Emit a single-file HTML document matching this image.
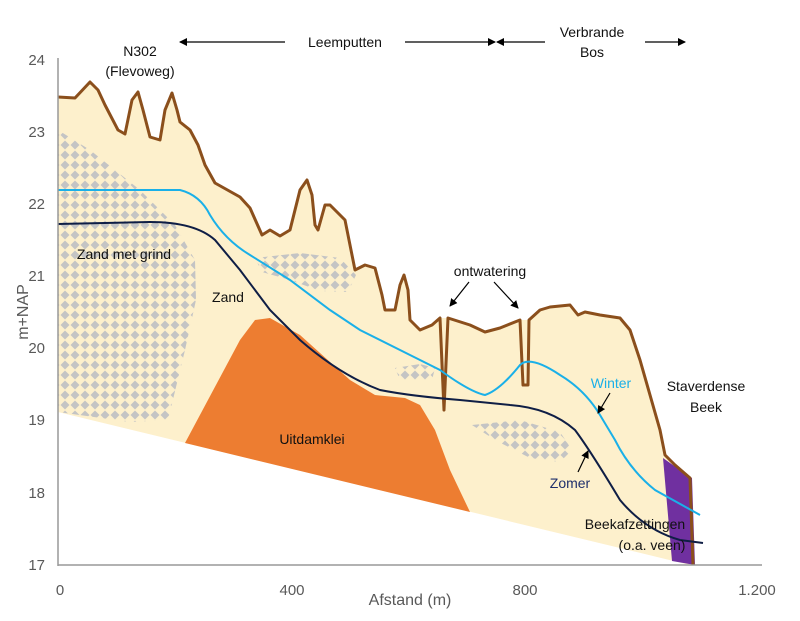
<!DOCTYPE html>
<html><head><meta charset="utf-8"><style>
body{margin:0;background:#fff}
svg{display:block;font-family:"Liberation Sans",sans-serif}
</style></head><body>
<svg width="800" height="621" viewBox="0 0 800 621" xmlns="http://www.w3.org/2000/svg">
<defs>
<pattern id="chk" width="10" height="10" patternUnits="userSpaceOnUse">
<rect width="10" height="10" fill="#fdf0cc"/>
<path d="M5 0.5 L9.5 5 L5 9.5 L0.5 5Z" fill="#c4c4c4"/>
</pattern>
<marker id="ah" markerWidth="8" markerHeight="8" refX="7" refY="4" orient="auto" markerUnits="userSpaceOnUse">
<path d="M0 0 L8 4 L0 8Z" fill="#000"/>
</marker>
</defs>
<path d="M58 97 L75 98 L90 82 L98 90 L105 105 L118 130 L125 134 L132 100 L138 92 L143 110 L150 137 L160 140 L165 110 L172 93 L177 110 L180 122 L190 130 L198 145 L205 165 L215 183 L240 197 L250 208 L262 235 L270 230 L280 236 L290 230 L300 190 L307 180 L312 195 L315 225 L318 230 L325 205 L330 205 L345 220 L355 270 L365 265 L375 268 L382 295 L385 310 L395 310 L400 285 L404 275 L408 290 L410 320 L420 330 L432 325 L440 318 L445 318 L448 318 L470 325 L485 332 L500 328 L520 320 L529 320 L540 310 L550 307 L570 305 L578 315 L585 312 L600 315 L620 318 L630 330 L640 360 L650 395 L660 430 L665 455 L675 465 L690 478 L693 565 L690 565 L58 412Z" fill="#fdf0cc"/>
<path d="M58 130 L90 150 L140 190 L175 225 L195 260 L196 300 L185 350 L168 420 L130 422 L58 412Z" fill="url(#chk)"/>
<path d="M255 258 L300 253 L340 258 L356 275 L348 292 L320 291 L290 280 L262 272Z" fill="url(#chk)"/>
<path d="M395 368 L420 364 L435 368 L432 380 L400 380Z" fill="url(#chk)"/>
<path d="M472 425 L520 420 L560 432 L572 450 L560 462 L530 458 L495 440Z" fill="url(#chk)"/>
<path d="M185 443 L240 340 L255 320 L270 318 L300 335 L350 380 L375 395 L405 398 L420 405 L435 430 L450 470 L470 512Z" fill="#ed7d31"/>
<path d="M663 458 L680 470 L692 478 L695 565 L672 561Z" fill="#7030a0"/>
<path d="M58 97 L75 98 L90 82 L98 90 L105 105 L118 130 L125 134 L132 100 L138 92 L143 110 L150 137 L160 140 L165 110 L172 93 L177 110 L180 122 L190 130 L198 145 L205 165 L215 183 L240 197 L250 208 L262 235 L270 230 L280 236 L290 230 L300 190 L307 180 L312 195 L315 225 L318 230 L325 205 L330 205 L345 220 L355 270 L365 265 L375 268 L382 295 L385 310 L395 310 L400 285 L404 275 L408 290 L410 320 L420 330 L432 325 L440 318 L444 410 L448 318 L470 325 L485 332 L500 328 L520 320 L523 385 L528 385 L529 320 L540 310 L550 307 L570 305 L578 315 L585 312 L600 315 L620 318 L630 330 L640 360 L650 395 L660 430 L665 455 L675 465 L690 478 L693 565" fill="none" stroke="#8b4f1c" stroke-width="3" stroke-linejoin="round"/>
<path d="M58 190 L180 190 Q200 195 210 215 Q225 240 250 255 L290 280 L330 310 L360 330 L410 355 L440 370 Q470 392 485 395 Q500 390 520 365 Q530 355 560 375 Q585 390 600 415 L615 440 Q630 470 655 490 L700 515" fill="none" stroke="#1ab0e8" stroke-width="2"/>
<path d="M58 224 L150 222 Q195 222 215 240 L240 270 L270 310 L300 340 Q340 375 380 390 Q410 396 460 400 L510 405 Q550 408 575 430 Q590 450 620 500 Q645 530 680 540 L703 543" fill="none" stroke="#0f1e45" stroke-width="2"/>
<line x1="58" y1="58" x2="58" y2="566" stroke="#999" stroke-width="1.5"/>
<line x1="58" y1="565" x2="762" y2="565" stroke="#999" stroke-width="1.5"/>
<g font-size="15" fill="#595959" text-anchor="end">
<text x="45" y="65">24</text><text x="45" y="137">23</text><text x="45" y="209">22</text><text x="45" y="281">21</text><text x="45" y="353">20</text><text x="45" y="425">19</text><text x="45" y="498">18</text><text x="45" y="570">17</text>
</g>
<g font-size="15" fill="#595959" text-anchor="middle">
<text x="60" y="595">0</text><text x="292" y="595">400</text><text x="525" y="595">800</text><text x="757" y="595">1.200</text>
<text x="410" y="605" font-size="16">Afstand (m)</text>
<text transform="translate(28,312) rotate(-90)" font-size="16">m+NAP</text>
</g>
<g font-size="14" fill="#111" text-anchor="middle">
<text x="140" y="56">N302</text><text x="140" y="76">(Flevoweg)</text>
<text x="345" y="47">Leemputten</text>
<text x="592" y="37">Verbrande</text><text x="592" y="57">Bos</text>
<text x="124" y="259">Zand met grind</text>
<text x="228" y="302">Zand</text>
<text x="312" y="444">Uitdamklei</text>
<text x="490" y="276">ontwatering</text>
<text x="611" y="388" fill="#1ab0e8">Winter</text>
<text x="706" y="391">Staverdense</text><text x="706" y="412">Beek</text>
<text x="570" y="488" fill="#1f2f6b">Zomer</text>
<text x="635" y="529">Beekafzettingen</text><text x="652" y="550">(o.a. veen)</text>
</g>
<g stroke="#000" stroke-width="1.2" marker-end="url(#ah)">
<line x1="285" y1="42" x2="180" y2="42"/>
<line x1="405" y1="42" x2="495" y2="42"/>
<line x1="545" y1="42" x2="497" y2="42"/>
<line x1="645" y1="42" x2="685" y2="42"/>
<line x1="469" y1="282" x2="450" y2="306"/>
<line x1="494" y1="282" x2="518" y2="308"/>
<line x1="610" y1="393" x2="598" y2="413"/>
<line x1="578" y1="472" x2="588" y2="451"/>
</g>
</svg>
</body></html>
